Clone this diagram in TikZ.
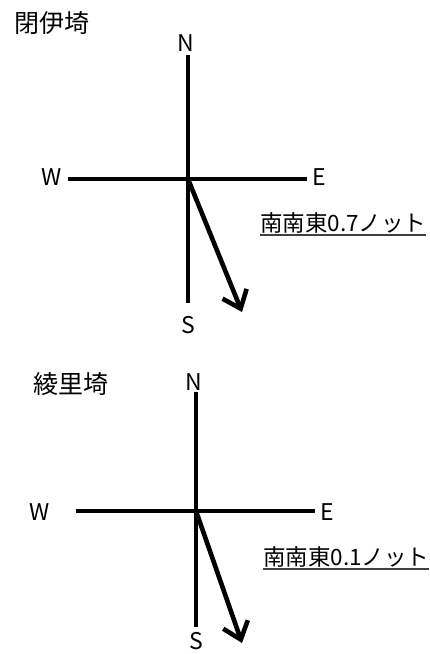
\documentclass[tikz,border=0pt]{standalone}
\usepackage{fontspec}
\setmainfont{Noto Sans CJK JP}
\usetikzlibrary{arrows.meta}
\usetikzlibrary{positioning}

\begin{document}
\begin{tikzpicture}[x = 1pt, y = -1pt]
	\tikzstyle{axisStyle} = [line width = 3.4pt]
	\tikzstyle{currentStyle} = [line width = 4.6pt, -{Straight Barb[length = 16pt, width = 26pt]}]
	\tikzstyle{dirStyle} = [inner sep = 0pt, text height = 16.5pt, text depth = 0pt, font = \fontsize{23}{26}\selectfont]
	\tikzstyle{siteStyle} = [inner sep = 0pt, font = \fontsize{25}{28}\selectfont]
	\tikzstyle{speedStyle} = [inner sep = 0pt, anchor = west, font = \fontsize{22.5}{26}\selectfont]
	\tikzstyle{lineStyle} = [line width = 1.4pt, color = black!75]
	\useasboundingbox (0,0) rectangle (430,654);
	% Heigun
	\node[siteStyle] (site0) at (52,23) {閉伊埼};
	\coordinate (c0) at (188,179);
	\coordinate (n0) at (188,55);
	\coordinate (s0) at (188,303);
	\coordinate (w0) at (68,179);
	\coordinate (e0) at (307,179);
	\coordinate (t0) at (242,312);
	\node[dirStyle] (N0) at (186,43) {N};
	\node[dirStyle] (S0) at (188,325) {S};
	\node[dirStyle] (W0) at (52,177) {W};
	\node[dirStyle] (E0) at (319,177) {E};
	\draw[axisStyle] (n0) -- (s0);
	\draw[axisStyle] (w0) -- (e0);
	\draw[currentStyle] (c0) -- (t0);
	\node[speedStyle] (v0) at (260,223) {南南東0.7ノット};
	\draw[lineStyle] ([yshift = -3.5pt]v0.base west) -- ([yshift = -3.5pt]v0.base east);
	% Ryori
	\node[siteStyle] (site1) at (71,384) {綾里埼};
	\coordinate (c1) at (196,511);
	\coordinate (n1) at (196,392);
	\coordinate (s1) at (196,627);
	\coordinate (w1) at (76,511);
	\coordinate (e1) at (315,511);
	\coordinate (t1) at (242,643);
	\node[dirStyle] (N1) at (194,382) {N};
	\node[dirStyle] (S1) at (196,641) {S};
	\node[dirStyle] (W1) at (40,512) {W};
	\node[dirStyle] (E1) at (327,512) {E};
	\draw[axisStyle] (n1) -- (s1);
	\draw[axisStyle] (w1) -- (e1);
	\draw[currentStyle] (c1) -- (t1);
	\node[speedStyle] (v1) at (263,557) {南南東0.1ノット};
	\draw[lineStyle] ([yshift = -3.5pt]v1.base west) -- ([yshift = -3.5pt]v1.base east);
\end{tikzpicture}
\end{document}
